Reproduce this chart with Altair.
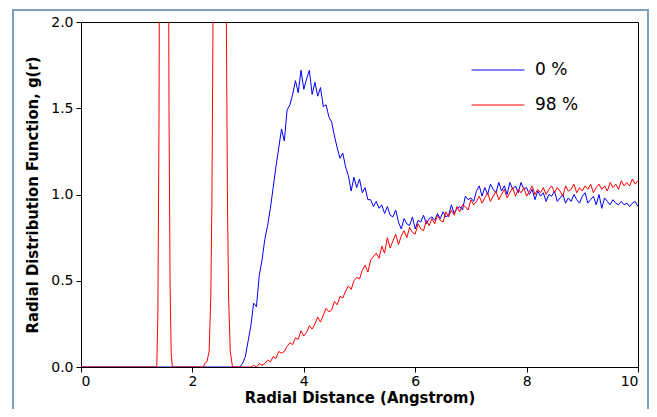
import altair as alt
import pandas as pd

# ---- data ----
series_names = ["0 %", "98 %"]
series_colors = ["#0000ff", "#ff0000"]

grid_start = 2.80
grid_step = 0.05

# 0 % : zero up to 2.8 A, then values on the 0.05 A grid from 2.80 to 10.00
blue_head_r = [0.0]
blue_head_g = [0.0]
blue_g = [
    0.00, 0.00, 0.02, 0.06, 0.15, 0.24, 0.37, 0.35, 0.53, 0.62,
    0.74, 0.82, 0.92, 1.04, 1.16, 1.27, 1.38, 1.31, 1.49, 1.52,
    1.58, 1.66, 1.59, 1.72, 1.61, 1.67, 1.72, 1.58, 1.65, 1.57,
    1.62, 1.51, 1.52, 1.45, 1.42, 1.34, 1.27, 1.21, 1.24, 1.16,
    1.11, 1.02, 1.10, 1.04, 1.09, 1.01, 1.04, 0.97, 0.97, 0.93,
    0.96, 0.92, 0.94, 0.89, 0.93, 0.88, 0.87, 0.91, 0.84, 0.80,
    0.86, 0.83, 0.82, 0.87, 0.80, 0.85, 0.84, 0.88, 0.83, 0.86,
    0.87, 0.85, 0.89, 0.86, 0.90, 0.87, 0.88, 0.94, 0.89, 0.92,
    0.93, 0.91, 0.99, 0.97, 0.98, 0.96, 1.02, 1.05, 0.99, 1.04,
    1.00, 1.06, 1.03, 1.01, 1.07, 1.02, 1.05, 1.00, 1.07, 1.03,
    1.05, 1.01, 1.07, 1.03, 1.04, 1.00, 1.03, 0.97, 1.02, 0.99,
    1.01, 0.96, 1.00, 0.99, 1.02, 0.96, 0.98, 1.00, 0.95, 0.98,
    0.96, 1.00, 0.97, 0.95, 0.99, 1.01, 0.95, 0.97, 0.99, 0.94,
    1.00, 0.92, 0.98, 0.96, 0.94, 0.97, 0.95, 0.94, 0.96, 0.94,
    0.95, 0.93, 0.95, 0.96, 0.93,
]

# 98 % : two sharp peaks (clipped at 2.0), then values on the same grid
red_head_r = [0.0, 1.34, 1.36, 1.38, 1.40, 1.42, 1.44, 1.47, 1.49, 1.51,
              1.54, 1.56, 1.58, 1.60, 1.62, 1.64, 2.20, 2.22, 2.26, 2.30,
              2.33, 2.35, 2.37, 2.40, 2.45, 2.49, 2.53, 2.58, 2.61, 2.63,
              2.65, 2.68, 2.72, 2.75]
red_head_g = [0.0, 0.0, 0.0, 0.3, 1.4, 3.5, 7.0, 12.5, 15.0, 12.5,
              7.0, 3.6, 1.5, 0.45, 0.08, 0.0, 0.0, 0.02, 0.03, 0.09,
              0.4, 0.95, 2.0, 4.9, 12.4, 15.6, 12.4, 4.9, 2.0, 0.95,
              0.4, 0.09, 0.0, 0.0]
red_g = [
    0.00, 0.00, 0.00, 0.00, 0.00, 0.00, 0.01, 0.00, 0.02, 0.01,
    0.02, 0.04, 0.03, 0.06, 0.05, 0.09, 0.08, 0.09, 0.12, 0.14,
    0.13, 0.17, 0.16, 0.21, 0.18, 0.20, 0.24, 0.22, 0.25, 0.29,
    0.26, 0.30, 0.34, 0.32, 0.33, 0.38, 0.36, 0.41, 0.40, 0.44,
    0.47, 0.45, 0.50, 0.52, 0.51, 0.56, 0.59, 0.55, 0.62, 0.64,
    0.66, 0.63, 0.70, 0.66, 0.75, 0.69, 0.73, 0.77, 0.71, 0.76,
    0.79, 0.75, 0.81, 0.78, 0.77, 0.83, 0.80, 0.79, 0.85, 0.82,
    0.86, 0.83, 0.88, 0.85, 0.84, 0.90, 0.87, 0.91, 0.88, 0.93,
    0.90, 0.94, 0.93, 0.91, 0.97, 0.94, 0.96, 0.99, 0.95, 0.98,
    1.01, 0.96, 0.99, 1.02, 0.97, 1.00, 1.03, 0.98, 1.01, 1.04,
    0.99, 1.03, 1.01, 1.04, 0.99, 1.02, 1.05, 1.00, 1.03, 1.01,
    1.04, 1.00, 1.03, 1.05, 1.01, 1.04, 1.02, 0.99, 1.05, 1.02,
    1.03, 1.06, 1.01, 1.04, 1.02, 1.05, 1.03, 1.06, 1.01, 1.04,
    1.06, 1.03, 1.05, 1.02, 1.07, 1.04, 1.06, 1.03, 1.08, 1.05,
    1.07, 1.05, 1.09, 1.06, 1.08,
]

x_ticks = [0, 2, 4, 6, 8, 10]
y_ticks = [0.0, 0.5, 1.0, 1.5, 2.0]

# ---- build table ----
def grid(values):
    return [round(grid_start + grid_step * i, 2) for i in range(len(values))]

rows = []
for r, g in zip(blue_head_r + grid(blue_g), blue_head_g + blue_g):
    rows.append({"r": r, "g": g, "series": series_names[0], "order": 0})
for r, g in zip(red_head_r + grid(red_g), red_head_g + red_g):
    rows.append({"r": r, "g": g, "series": series_names[1], "order": 1})
df = pd.DataFrame(rows)

TITLE_FONT = "DejaVu Sans Condensed"
LABEL_FONT = "DejaVu Sans"

lines = alt.Chart(df).mark_line(strokeWidth=1, clip=True).encode(
    x=alt.X("r:Q", scale=alt.Scale(domain=[0, 10], nice=False),
            axis=alt.Axis(values=x_ticks, title="Radial Distance (Angstrom)", format="d")),
    y=alt.Y("g:Q", scale=alt.Scale(domain=[0, 2], nice=False),
            axis=alt.Axis(values=y_ticks, title="Radial Distribution Function, g(r)", format=".1f")),
    color=alt.Color("series:N",
                    scale=alt.Scale(domain=series_names, range=series_colors),
                    legend=alt.Legend(title=None, orient="none", legendX=390, legendY=21,
                                      symbolType="stroke", symbolSize=2800, symbolStrokeWidth=1,
                                      labelFontSize=17, labelFont=LABEL_FONT, labelColor="#000000",
                                      labelOffset=10, rowPadding=-12)),
    order="order:Q",
)

frame = alt.Chart(df).mark_rect(fill=None, stroke="#7f9fbf", strokeWidth=1.5).encode(
    x=alt.value(-68), x2=alt.value(567), y=alt.value(-12), y2=alt.value(420)
)

chart = alt.layer(frame, lines).properties(
    width=557, height=345,
    padding={"left": 73, "top": 14, "right": 11, "bottom": 42},
    autosize=alt.AutoSizeParams(type="none"),
    background="white",
).configure_view(
    stroke="#000000", strokeWidth=1
).configure_axis(
    domainColor="#000000", tickColor="#000000", labelColor="#000000", titleColor="#000000",
    labelFont=LABEL_FONT, titleFont=TITLE_FONT, labelFontSize=14, titleFontSize=16.5,
    titleFontWeight="bold", tickSize=5, grid=False, labelPadding=3,
)
chart = chart.configure_axisY(titlePadding=10).configure_axisX(titlePadding=1, labelPadding=2)

chart.save("out.html", embed_options={"renderer": "svg", "actions": False})
